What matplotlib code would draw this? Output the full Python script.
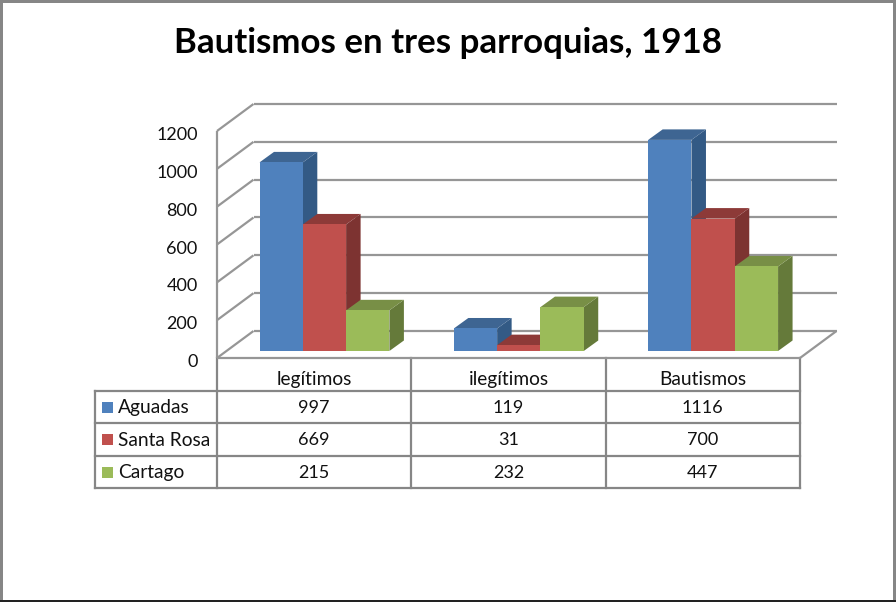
import matplotlib
matplotlib.use("Agg")
import matplotlib.pyplot as plt
from matplotlib.patches import Polygon, Rectangle
from matplotlib.transforms import ScaledTranslation

plt.rcParams['font.family'] = ['Lato', 'DejaVu Sans']

title = "Bautismos en tres parroquias, 1918"
categories = ["legítimos", "ilegítimos", "Bautismos"]
series_names = ["Aguadas", "Santa Rosa", "Cartago"]
aguadas = [997, 119, 1116]
santa_rosa = [669, 31, 700]
cartago = [215, 232, 447]
series_values = [aguadas, santa_rosa, cartago]
y_ticks = [0, 200, 400, 600, 800, 1000, 1200]

front_c = ["#4F81BD", "#C0504D", "#9BBB59"]
side_c = ["#335A85", "#7D3331", "#657A3A"]
top_c = ["#3E6592", "#8D3A38", "#788F46"]
GRID = "#969696"
TBL = "#868686"
TXT = "#111111"
FS = 13.0
FS_WORD = 13.8

W, H = 896, 602
fig = plt.figure(figsize=(W / 100, H / 100), dpi=100, facecolor="white")

# overlay in pixel coordinates for frame and table
bg = fig.add_axes([0, 0, 1, 1])
bg.set_xlim(0, W)
bg.set_ylim(H, 0)
bg.axis("off")

# frame
bg.add_patch(Rectangle((0, 0), 3, H, color="#868686", lw=0))
bg.add_patch(Rectangle((893, 0), 3, H, color="#868686", lw=0))
bg.add_patch(Rectangle((0, 0), W, 3, color="#868686", lw=0))
bg.add_patch(Rectangle((0, 599.5), W, 2.5, color="#222222", lw=0))

bg.text(448.5, 43, title, fontsize=25.1, fontweight="bold", color="black",
        ha="center", va="center")

# chart axes: front plane of the 3-D box
L, R, T, B = 217, 800, 131, 358
ax = fig.add_axes([L / W, 1 - B / H, (R - L) / W, (B - T) / H])
ax.patch.set_alpha(0)
ax.set_xlim(0, 3)
ax.set_ylim(0, 1200)
for s in ax.spines.values():
    s.set_visible(False)
ax.set_yticks(y_ticks)
ax.set_yticklabels([str(v) for v in y_ticks], fontsize=FS, color=TXT)
ax.tick_params(axis="y", length=0, pad=14)
ax.set_xticks([0.5, 1.5, 2.5])
ax.set_xticklabels(categories, fontsize=FS_WORD, color=TXT)
ax.tick_params(axis="x", length=0, pad=9.5)
shift = ScaledTranslation(0, -2.5 / 100, fig.dpi_scale_trans)
for lab in ax.get_yticklabels():
    lab.set_transform(lab.get_transform() + shift)

px_x = 3 / (R - L)
px_y = 1200 / (B - T)
wall_dx, wall_dy = 36.5 * px_x, 27 * px_y
base_dx, base_dy = 10.3 * px_x, 7.0 * px_y
bar_dx, bar_dy = 14.5 * px_x, 10.5 * px_y
bar_w = 43.3 * px_x
gap = 32.2 * px_x


def line(xs, ys, **kw):
    ax.plot(xs, ys, color=GRID, lw=1.6, clip_on=False, solid_capstyle="butt", **kw)


# walls and gridlines
for v in y_ticks:
    line([wall_dx, 3 + wall_dx], [v + wall_dy] * 2)
    line([0, wall_dx], [v, v + wall_dy])
line([0, 0], [0, 1200])
line([0, 3], [0, 0])
line([3, 3 + wall_dx], [0, wall_dy])

# 3-D bars
for c in range(len(categories)):
    for s, vals in enumerate(series_values):
        x0 = c + base_dx + gap + s * bar_w
        x1 = x0 + bar_w
        y0 = base_dy
        y1 = base_dy + vals[c]
        ax.add_patch(Polygon([(x1, y0), (x1 + bar_dx, y0 + bar_dy),
                              (x1 + bar_dx, y1 + bar_dy), (x1, y1)],
                             fc=side_c[s], ec="none", clip_on=False, zorder=3))
        ax.add_patch(Polygon([(x0, y1), (x1, y1), (x1 + bar_dx, y1 + bar_dy),
                              (x0 + bar_dx, y1 + bar_dy)],
                             fc=top_c[s], ec="none", clip_on=False, zorder=3))
        ax.add_patch(Rectangle((x0, y0), bar_w, vals[c], fc=front_c[s],
                               ec="none", clip_on=False, zorder=3))

# data table
rows_y = [358, 391, 423, 456, 488]
cols_x = [217, 411.3, 605.5, 800]
tbl_left = 95


def tline(xs, ys):
    bg.plot(xs, ys, color=TBL, lw=1.6, solid_capstyle="projecting")


for x in cols_x:
    tline([x, x], [rows_y[0], rows_y[-1]])
tline([tbl_left, tbl_left], [rows_y[1], rows_y[-1]])
for y in rows_y[1:]:
    tline([tbl_left, cols_x[-1]], [y, y])

for r, name in enumerate(series_names):
    ytop, ybot = rows_y[r + 1], rows_y[r + 2]
    yc = (ytop + ybot) / 2
    bg.add_patch(Rectangle((102, yc - 5.5), 11, 11, fc=front_c[r], ec="none"))
    bg.text(118, yc + 0.5, name, fontsize=FS_WORD, color=TXT, ha="left", va="center")
    for c in range(len(categories)):
        xc = (cols_x[c] + cols_x[c + 1]) / 2
        bg.text(xc, yc + 0.8, str(series_values[r][c]), fontsize=FS, color=TXT,
                ha="center", va="center")

fig.savefig("out.png", dpi=100, facecolor="white")
